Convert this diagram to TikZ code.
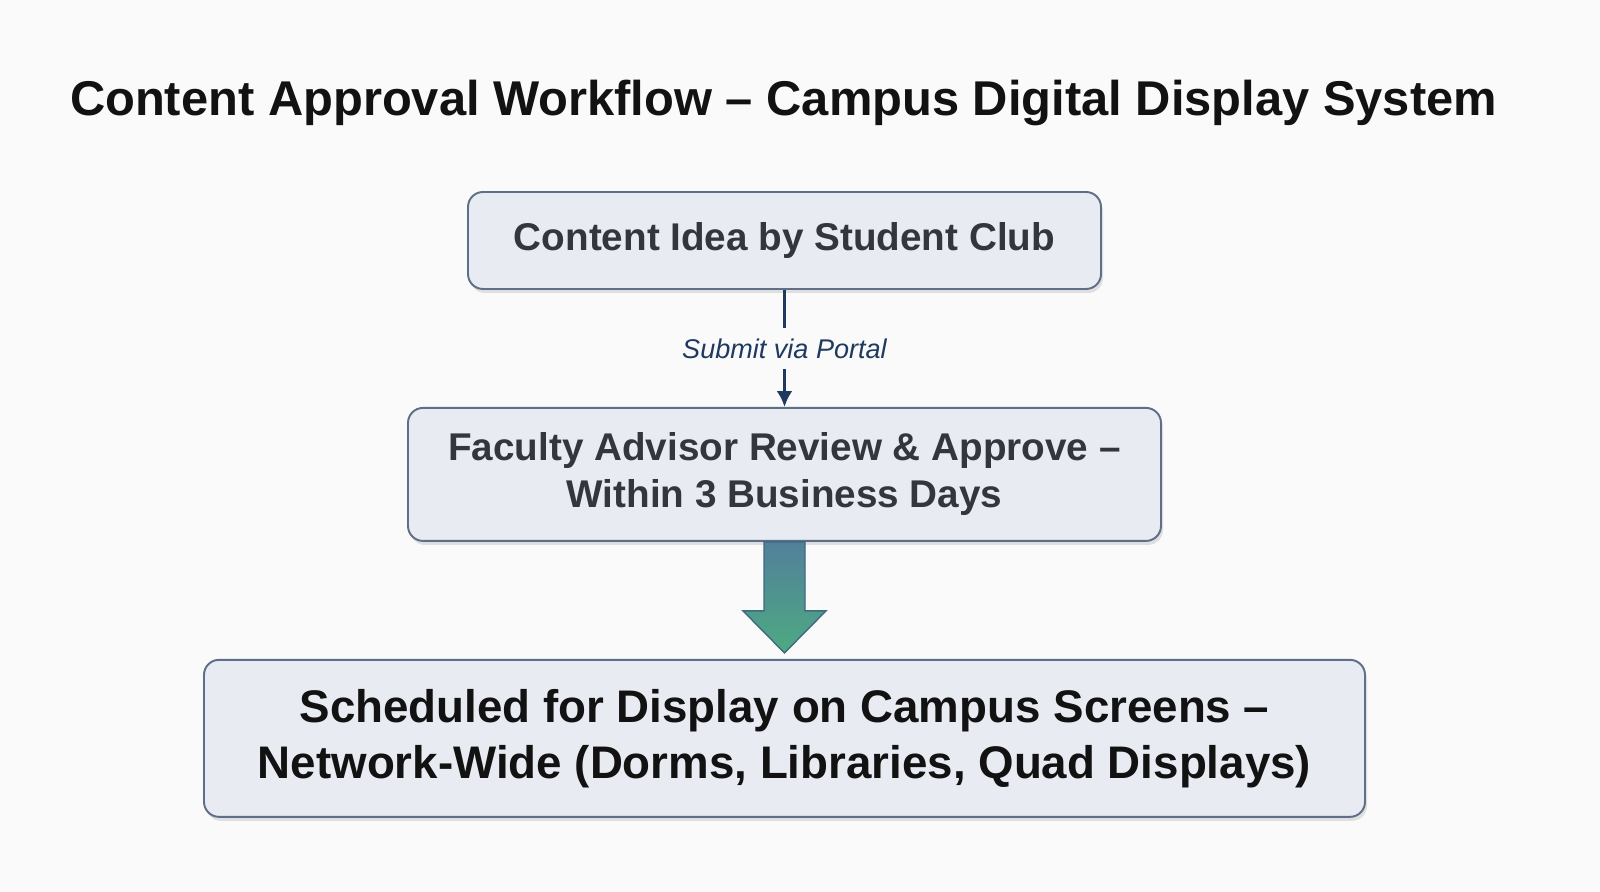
\documentclass[tikz,border=0pt]{standalone}
\usepackage{fontspec}
\setmainfont{Liberation Sans}
\usepackage{tikz}
\usetikzlibrary{arrows.meta,positioning,shadows,calc}
\definecolor{bgcol}{HTML}{FAFAFA}
\definecolor{boxfill}{HTML}{E8EBF1}
\definecolor{boxline}{HTML}{5F6F87}
\definecolor{boxtext}{HTML}{33363D}
\definecolor{navy}{HTML}{1F3A60}
\definecolor{arrtop}{HTML}{52809A}
\definecolor{arrbot}{HTML}{4DAA82}
\definecolor{arrline}{HTML}{3F6A80}

\begin{document}
\begin{tikzpicture}[>={Latex[length=9pt,width=9pt]},node distance=2.34cm,semithick]
\tikzstyle{box}=[rectangle,rounded corners=0.3cm,fill=boxfill,draw=boxline,line width=1.1pt,align=center,font=\bfseries,
  drop shadow={opacity=0.22,shadow xshift=0.04cm,shadow yshift=-0.08cm}]
\tikzstyle{link}=[draw=navy,line width=1.7pt]
\fill[bgcol] (0,0) rectangle (32,17.84);
\useasboundingbox (0,0) rectangle (32,17.84);
\node[anchor=base,text=black!93,font=\fontsize{27.8}{33}\selectfont\bfseries] (title) at (15.67,15.52) {Content Approval Workflow -- Campus Digital Display System};
\node[box,minimum width=12.66cm,minimum height=1.94cm,text=boxtext,font=\fontsize{22}{26.7}\selectfont\bfseries] (idea) at (15.69,13.03) {Content Idea by Student Club};
\node[box,minimum width=15.06cm,minimum height=2.66cm,text=boxtext,font=\fontsize{22}{26.7}\selectfont\bfseries] (review) [below=of idea] {Faculty Advisor Review \& Approve --\\Within 3 Business Days};
\node[box,minimum width=23.22cm,minimum height=3.14cm,text=black!93,font=\fontsize{26}{31.9}\selectfont\bfseries] (display) [below=of review] {Scheduled for Display on Campus Screens --\\Network-Wide (Dorms, Libraries, Quad Displays)};
\node[text=navy,inner sep=0.2cm,font=\fontsize{15.4}{18}\selectfont\itshape] (submit) at ($(idea.south)!0.5!(review.north)$) {Submit via Portal};
\path[link] (idea) -- (submit);
\path[link,->] (submit) -- (review);
\draw[arrline,line width=0.8pt,top color=arrtop,bottom color=arrbot] (review.south) ++(-0.41,0) -- ++(0,-1.38) -- ++(-0.42,0) -- ++(0.83,-0.84) -- ++(0.83,0.84) -- ++(-0.42,0) -- ++(0,1.38) -- cycle;
\end{tikzpicture}
\end{document}
